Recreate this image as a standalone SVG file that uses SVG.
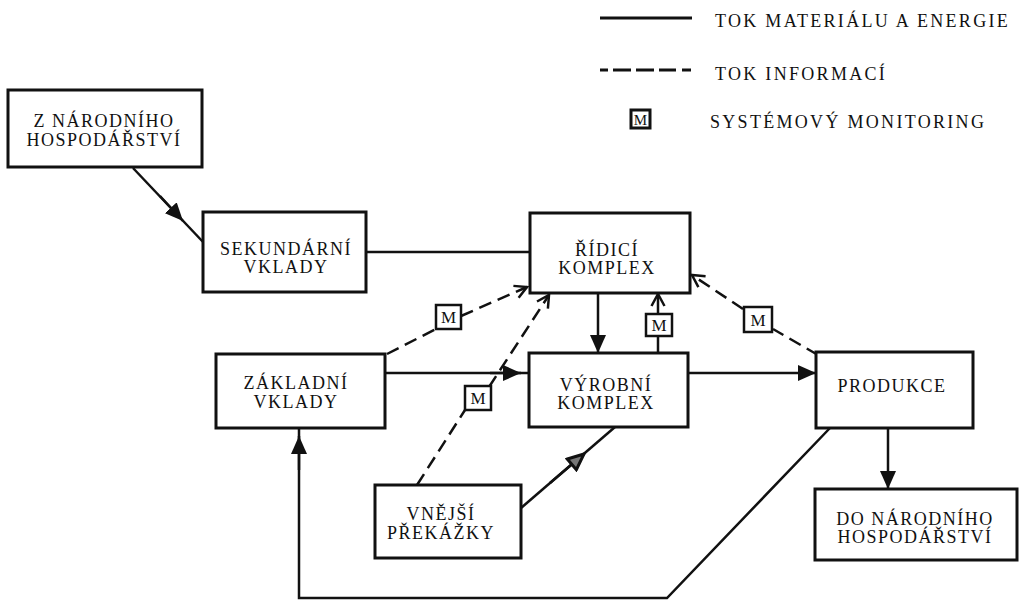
<svg xmlns="http://www.w3.org/2000/svg" width="1020" height="601" viewBox="0 0 1020 601">
<style>
.box{fill:#fff;stroke:#111;stroke-width:3}
.mbox{fill:#fff;stroke:#111;stroke-width:2.5}
.t{font-family:"Liberation Serif",serif;font-size:18px;letter-spacing:1.5px;fill:#111;text-anchor:middle}
.lt{font-family:"Liberation Serif",serif;font-size:18px;letter-spacing:2.3px;fill:#111}
.mt{font-family:"Liberation Serif",serif;font-size:17px;fill:#111;text-anchor:middle}
.ln{fill:none;stroke:#111;stroke-width:2.5}
.dash{fill:none;stroke:#111;stroke-width:2.5;stroke-dasharray:13 7}
</style>
<defs>
<marker id="fa" viewBox="0 0 18 16" refX="18" refY="8" markerUnits="userSpaceOnUse" markerWidth="18" markerHeight="16" orient="auto"><path d="M0,0 L18,8 L0,16 Z" fill="#111"/></marker>
<marker id="ha" viewBox="0 0 20 18" refX="18" refY="9" markerUnits="userSpaceOnUse" markerWidth="20" markerHeight="18" orient="auto"><path d="M2,2 L18,9 L2,16 Z" fill="#777" stroke="#111" stroke-width="3"/></marker>
<marker id="ch" viewBox="0 0 16 16" refX="14" refY="8" markerUnits="userSpaceOnUse" markerWidth="16" markerHeight="16" orient="auto"><path d="M2,1.5 L14,8 L2,14.5" fill="none" stroke="#111" stroke-width="2.5"/></marker>
</defs>

<g id="legend">
<line x1="600" y1="18" x2="692" y2="18" stroke="#111" stroke-width="3"/>
<text class="lt" x="715" y="27">TOK MATERIÁLU A ENERGIE</text>
<line x1="600" y1="70" x2="692" y2="70" stroke="#111" stroke-width="3" stroke-dasharray="8 5 18 5 18 5 17 6 9"/>
<text class="lt" x="715" y="80">TOK INFORMACÍ</text>
<rect class="mbox" x="631" y="110" width="19" height="18" style="stroke-width:3"/>
<text class="mt" x="640.5" y="125" style="font-size:15px">M</text>
<text class="lt" x="710" y="128">SYSTÉMOVÝ MONITORING</text>
</g>

<g id="connectors">
<!-- Z -> SEKUNDARNI -->
<path class="ln" d="M133,168 L204,243"/>
<path class="ln" d="M160,196 L183,221" marker-end="url(#fa)"/>
<!-- SEKUNDARNI - RIDICI -->
<path class="ln" d="M366,252 L530,252"/>
<!-- RIDICI -> VYROBNI -->
<path class="ln" d="M598,293 L598,353" marker-end="url(#fa)"/>
<!-- VYROBNI -> RIDICI (monitored) -->
<path class="ln" d="M658,353 L658,294" marker-end="url(#ch)"/>
<!-- ZAKLADNI -> VYROBNI -->
<path class="ln" d="M385,373 L529,373"/>
<path class="ln" d="M490,373 L521,373" marker-end="url(#fa)"/>
<!-- VYROBNI -> PRODUKCE -->
<path class="ln" d="M688,373 L816,373" marker-end="url(#fa)"/>
<!-- PRODUKCE -> DO -->
<path class="ln" d="M888,428 L888,489" marker-end="url(#fa)"/>
<!-- VNEJSI -> VYROBNI -->
<path class="ln" d="M521,508 L615,427"/>
<path class="ln" d="M550,483 L584,454" marker-end="url(#ha)"/>
<!-- feedback PRODUKCE -> ZAKLADNI -->
<path class="ln" d="M830,428 L667,598 L299,598 L299,428"/>
<path class="ln" d="M299,470 L299,436" marker-end="url(#fa)"/>
<!-- dashed info flows -->
<path class="dash" d="M387,354 L436,329"/>
<path class="dash" d="M461,316 L527,287" marker-end="url(#ch)"/>
<path class="dash" d="M417,485 L465,410"/>
<path class="dash" d="M489,387 L549,295" marker-end="url(#ch)"/>
<path class="dash" d="M818,355 L773,329"/>
<path class="dash" d="M743,309 L692,275" marker-end="url(#ch)"/>
</g>

<g id="m1"><rect class="mbox" x="436" y="305" width="25" height="24"/><text class="mt" x="448.5" y="323">M</text></g>
<g id="m2"><rect class="mbox" x="646" y="314" width="26" height="22"/><text class="mt" x="659" y="331">M</text></g>
<g id="m3"><rect class="mbox" x="744" y="307" width="28" height="25"/><text class="mt" x="758" y="326">M</text></g>
<g id="m4"><rect class="mbox" x="465" y="386" width="26" height="24"/><text class="mt" x="478" y="404">M</text></g>

<g id="z-narodniho"><rect class="box" x="8" y="90" width="194" height="77"/><text class="t" x="104" y="127">Z NÁRODNÍHO</text><text class="t" x="104" y="146">HOSPODÁŘSTVÍ</text></g>
<g id="sekundarni"><rect class="box" x="203" y="212" width="163" height="80"/><text class="t" x="286" y="255">SEKUNDÁRNÍ</text><text class="t" x="286" y="273">VKLADY</text></g>
<g id="ridici"><rect class="box" x="530" y="213" width="160" height="80"/><text class="t" x="607" y="256">ŘÍDICÍ</text><text class="t" x="607" y="274">KOMPLEX</text></g>
<g id="vyrobni"><rect class="box" x="529" y="353" width="159" height="74"/><text class="t" x="606" y="391">VÝROBNÍ</text><text class="t" x="606" y="409">KOMPLEX</text></g>
<g id="zakladni"><rect class="box" x="216" y="354" width="169" height="74"/><text class="t" x="296" y="389">ZÁKLADNÍ</text><text class="t" x="296" y="408">VKLADY</text></g>
<g id="vnejsi"><rect class="box" x="375" y="485" width="146" height="73"/><text class="t" x="441" y="520">VNĚJŠÍ</text><text class="t" x="441" y="539">PŘEKÁŽKY</text></g>
<g id="produkce"><rect class="box" x="816" y="352" width="157" height="76"/><text class="t" x="892" y="392">PRODUKCE</text></g>
<g id="do-narodniho"><rect class="box" x="815" y="489" width="202" height="71"/><text class="t" x="915" y="525">DO NÁRODNÍHO</text><text class="t" x="915" y="543">HOSPODÁŘSTVÍ</text></g>
</svg>
